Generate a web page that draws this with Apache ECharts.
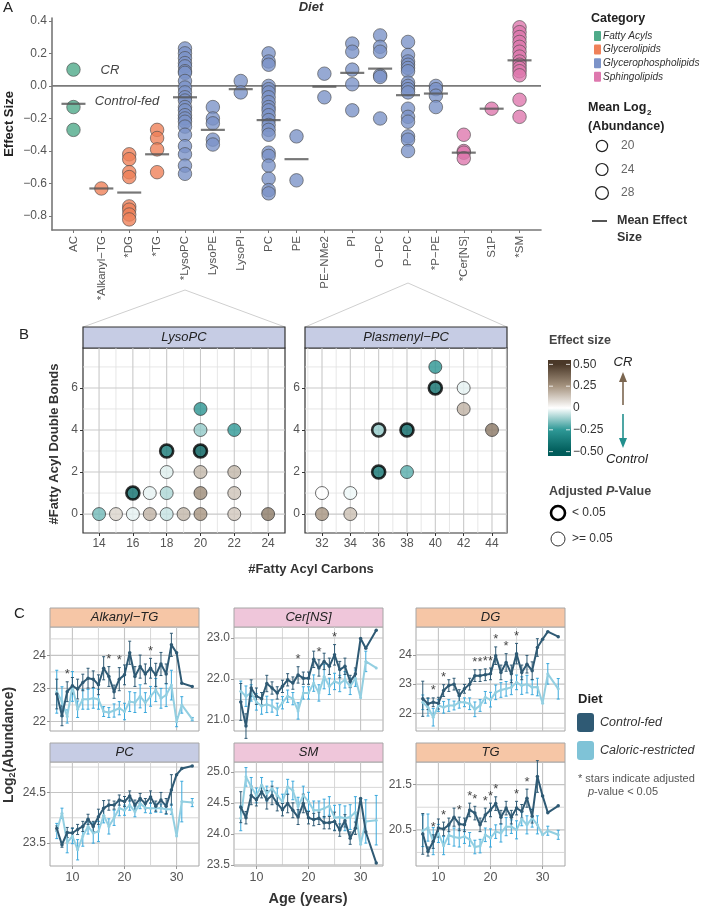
<!DOCTYPE html>
<html>
<head>
<meta charset="utf-8">
<script src="https://cdn.jsdelivr.net/npm/echarts@6/dist/echarts.min.js"></script>
<style>
html, body { margin: 0; padding: 0; background: #fff; }
#chart { width: 701px; height: 908px; }
</style>
</head>
<body>
<div id="chart"></div>
<script>
var FAM = '"Liberation Sans", Arial, sans-serif';
function F(size, style) { return (style ? style + ' ' : '') + size + 'px ' + FAM; }

// ---------- panel A : effect size per lipid class
var catNames = ['AC', '*Alkanyl\u2212TG', '*DG', '*TG', '*LysoPC', 'LysoPE', 'LysoPI', 'PC', 'PE', 'PE\u2212NMe2', 'PI', 'O\u2212PC', 'P\u2212PC', '*P\u2212PE', '*Cer[NS]', 'S1P', '*SM'];
var catGroup = [0, 1, 1, 1, 2, 2, 2, 2, 2, 2, 2, 2, 2, 2, 3, 3, 3];
var groupNames = ['Fatty Acyls', 'Glycerolipids', 'Glycerophospholipids', 'Sphingolipids'];
var groupColors = ['#4faa89', '#ef8159', '#7c93c8', '#de78ae'];
var catEffects = [
  [0.10, -0.13, -0.27],
  [-0.63],
  [-0.42, -0.45, -0.53, -0.56, -0.74, -0.76, -0.79, -0.82],
  [-0.27, -0.32, -0.39, -0.53],
  [0.23, 0.20, 0.17, 0.14, 0.12, 0.09, 0.08, 0.03, -0.01, -0.04, -0.07, -0.09, -0.13, -0.15, -0.18, -0.20, -0.22, -0.25, -0.30, -0.37, -0.42, -0.49, -0.54],
  [-0.13, -0.20, -0.23, -0.33, -0.36],
  [0.03, -0.04],
  [0.20, 0.15, 0.13, 0.0, -0.02, -0.04, -0.07, -0.10, -0.13, -0.15, -0.18, -0.21, -0.24, -0.27, -0.30, -0.41, -0.43, -0.49, -0.57, -0.64, -0.66],
  [-0.31, -0.58],
  [0.075, -0.07],
  [0.26, 0.21, 0.10, 0.01, -0.15],
  [0.31, 0.24, 0.21, 0.065, 0.055, -0.20],
  [0.27, 0.19, 0.15, 0.13, 0.11, 0.09, 0.02, 0.0, -0.02, -0.04, -0.14, -0.19, -0.22, -0.31, -0.33, -0.40],
  [0.0, -0.02, -0.06, -0.13],
  [-0.30, -0.40, -0.41, -0.445],
  [-0.14],
  [0.36, 0.33, 0.30, 0.27, 0.24, 0.21, 0.18, 0.15, 0.13, 0.11, 0.09, 0.065, -0.085, -0.19]
];
var catMeans = [-0.11, -0.63, -0.655, -0.42, -0.07, -0.27, -0.02, -0.21, -0.45, -0.005, 0.08, 0.106, -0.057, -0.047, -0.41, -0.14, 0.157];
var effectTicks = [-0.8, -0.6, -0.4, -0.2, 0, 0.2, 0.4];
var abundanceKeys = [20, 24, 28];

// ---------- panel B : species by carbons / double bonds
var lysoC = [14, 15, 16, 17, 18, 19, 20, 22, 24, 16, 17, 18, 20, 22, 18, 20, 22, 18, 20, 20, 22, 20];
var lysoDB = [0, 0, 0, 0, 0, 0, 0, 0, 0, 1, 1, 1, 1, 1, 2, 2, 2, 3, 3, 4, 4, 5];
var lysoES = [-0.17, 0.10, -0.03, 0.18, -0.07, 0.17, 0.25, 0.13, 0.32, -0.43, -0.03, -0.10, 0.28, 0.14, -0.04, 0.17, 0.17, -0.38, -0.5, -0.13, -0.25, -0.27];
var lysoSig = [0, 0, 0, 0, 0, 0, 0, 0, 0, 1, 0, 0, 0, 0, 0, 0, 0, 1, 1, 0, 0, 0];
var plasC = [32, 34, 32, 34, 36, 38, 36, 38, 44, 42, 40, 42, 40];
var plasDB = [0, 0, 1, 1, 2, 2, 4, 4, 4, 5, 6, 6, 7];
var plasES = [0.25, 0.15, 0.0, -0.02, -0.4, -0.2, -0.13, -0.45, 0.33, 0.18, -0.42, -0.03, -0.27];
var plasSig = [0, 0, 0, 0, 1, 0, 1, 1, 0, 0, 1, 0, 0];
var esTicks = [0.5, 0.25, 0, -0.25, -0.5];
var esColors = ['#005c5a', '#2e9896', '#ffffff', '#a69480', '#4a3828'];

// ---------- panel C : abundance by age
var ages = [7, 8, 9, 10, 11, 12, 13, 14, 15, 16, 17, 18, 19, 20, 21, 22, 23, 24, 25, 26, 27, 28, 29, 30, 31, 33];

var alkCtl = [22.83, 22.17, 22.9, 23.08, 22.98, 23.18, 23.31, 23.28, 23.11, 23.61, 23.36, 22.9, 23.28, 23.41, 24.08, 23.36, 23.66, 23.44, 23.61, 23.41, 23.74, 23.44, 24.32, 24.08, 23.16, 23.06];
var alkCtlErr = [0.45, 0.3, 0.3, 0.25, 0.3, 0.25, 0.3, 0.25, 0.3, 0.35, 0.3, 0.2, 0.35, 0.3, 0.35, 0.3, 0.35, 0.3, 0.3, 0.35, 0.35, 0.3, 0.35, 0, 0, 0];
var alkCr = [22.9, 22.6, 22.15, 23.06, 22.37, 22.67, 22.67, 22.7, 22.67, 22.3, 22.27, 22.33, 22.4, 22.3, 22.6, 22.57, 22.76, 22.57, 22.76, 22.95, 22.7, 22.8, 23.1, 21.99, 22.5, 22.07];
var alkCrErr = [0.65, 0.45, 0.2, 0.45, 0.25, 0.3, 0.3, 0.3, 0.3, 0.15, 0.15, 0.2, 0.2, 0.25, 0.3, 0.3, 0.35, 0.3, 0.3, 0.35, 0.3, 0.35, 0.45, 0.15, 0.25, 0.05];
var alkStars = [9, 17, 19, 25];

var cerCtl = [21.44, 20.85, 21.78, 21.58, 21.52, 21.89, 21.78, 21.66, 21.82, 21.98, 21.9, 22.1, 22.02, 22.02, 22.48, 22.27, 22.43, 22.31, 22.59, 22.23, 22.31, 21.94, 22.12, 22.99, 22.75, 23.19];
var cerCtlErr = [0.45, 0.3, 0.2, 0.2, 0.15, 0.2, 0.15, 0.15, 0.15, 0.15, 0.15, 0.2, 0.15, 0.15, 0.2, 0.2, 0.2, 0.2, 0.25, 0.2, 0.2, 0.15, 0.15, 0, 0, 0];
var cerCr = [21.7, 21.58, 21.66, 21.44, 21.34, 21.38, 21.34, 21.26, 21.42, 21.58, 21.52, 21.22, 21.66, 21.66, 21.9, 21.66, 22.06, 21.82, 21.94, 21.89, 21.98, 21.82, 22.02, 21.54, 22.43, 22.27];
var cerCrErr = [0.25, 0.25, 0.2, 0.2, 0.2, 0.2, 0.15, 0.15, 0.15, 0.15, 0.15, 0.2, 0.15, 0.15, 0.2, 0.2, 0.3, 0.2, 0.2, 0.2, 0.2, 0.2, 0.2, 0, 0.25, 0];
var cerStars = [18, 22, 25];

var dgCtl = [22.5, 22.33, 22.38, 22.35, 22.78, 22.95, 23.0, 22.61, 22.84, 23.0, 23.29, 23.29, 23.32, 23.35, 23.97, 23.4, 23.74, 23.35, 24.04, 23.4, 23.68, 23.46, 24.25, 24.53, 24.79, 24.62];
var dgCtlErr = [0.6, 0.2, 0.15, 0.2, 0.2, 0.2, 0.2, 0.2, 0.15, 0.2, 0.2, 0.2, 0.2, 0.2, 0.3, 0.25, 0.3, 0.3, 0.35, 0.25, 0.3, 0.3, 0.3, 0, 0, 0];
var dgCr = [22.38, 22.21, 21.87, 22.27, 22.21, 22.27, 22.27, 22.38, 22.38, 22.33, 22.14, 22.27, 22.55, 22.47, 22.72, 22.8, 22.84, 22.89, 23.06, 22.95, 23.0, 22.89, 22.9, 22.35, 23.35, 22.84];
var dgCrErr = [0.25, 0.3, 0.3, 0.2, 0.2, 0.2, 0.15, 0.2, 0.15, 0.2, 0.25, 0.2, 0.2, 0.25, 0.25, 0.25, 0.25, 0.25, 0.25, 0.3, 0.3, 0.25, 0.3, 0, 0.35, 0.35];
var dgStars = [9, 11, 17, 18, 19, 20, 21, 23, 25];

var pcCtl = [23.79, 23.47, 23.71, 23.7, 23.77, 23.83, 23.97, 23.83, 24.02, 24.19, 24.25, 24.25, 24.35, 24.32, 24.43, 24.25, 24.38, 24.28, 24.41, 24.23, 24.35, 24.23, 24.55, 24.85, 24.97, 25.02];
var pcCtlErr = [0.05, 0.05, 0.1, 0.1, 0.1, 0.1, 0.1, 0.1, 0.15, 0.15, 0.1, 0.08, 0.1, 0.1, 0.1, 0.1, 0.1, 0.1, 0.12, 0.1, 0.15, 0.15, 0.3, 0, 0, 0];
var pcCr = [23.74, 24.09, 23.51, 23.64, 23.37, 23.64, 23.83, 23.7, 23.73, 24.05, 23.83, 24.0, 24.19, 24.15, 24.25, 24.12, 24.28, 24.2, 24.19, 24.19, 24.19, 24.17, 24.17, 23.64, 24.32, 24.3];
var pcCrErr = [0.15, 0.1, 0.2, 0.15, 0.2, 0.2, 0.15, 0.2, 0.2, 0.15, 0.15, 0.15, 0.15, 0.1, 0.1, 0.1, 0.1, 0.1, 0.1, 0.08, 0.08, 0.1, 0.1, 0, 0.4, 0.08];
var pcStars = [];

var smCtl = [24.43, 24.26, 24.62, 24.55, 24.68, 24.55, 24.62, 24.49, 24.39, 24.49, 24.38, 24.27, 24.49, 24.26, 24.23, 24.25, 24.18, 24.18, 24.2, 24.06, 24.21, 23.93, 24.09, 24.57, 24.03, 23.53];
var smCtlErr = [0.25, 0.1, 0.15, 0.1, 0.1, 0.15, 0.15, 0.12, 0.1, 0.15, 0.12, 0.12, 0.15, 0.1, 0.1, 0.1, 0.1, 0.1, 0.15, 0.1, 0.1, 0.1, 0.1, 0, 0, 0];
var smCr = [24.25, 24.92, 24.76, 24.62, 24.79, 24.65, 24.73, 24.62, 24.52, 24.76, 24.7, 24.44, 24.62, 24.52, 24.38, 24.38, 24.41, 24.45, 24.26, 24.27, 24.25, 24.27, 24.35, 23.83, 24.2, 24.22];
var smCrErr = [0.2, 0.15, 0.15, 0.12, 0.12, 0.12, 0.12, 0.12, 0.12, 0.12, 0.15, 0.15, 0.15, 0.15, 0.15, 0.15, 0.15, 0.15, 0.2, 0.2, 0.2, 0.2, 0.25, 0, 0.35, 0.4];
var smStars = [];

var tgCtl = [20.41, 20.02, 20.24, 20.54, 20.52, 20.61, 20.78, 20.63, 20.61, 20.94, 20.87, 20.61, 20.83, 20.94, 21.08, 20.78, 20.98, 20.78, 20.98, 20.91, 21.2, 20.8, 21.68, 21.25, 20.88, 21.03];
var tgCtlErr = [0.45, 0.1, 0.15, 0.2, 0.15, 0.15, 0.2, 0.15, 0.15, 0.15, 0.15, 0.15, 0.15, 0.15, 0.15, 0.15, 0.15, 0.15, 0.15, 0.15, 0.2, 0.15, 0.35, 0, 0, 0];
var tgCr = [20.48, 20.55, 20.25, 20.42, 20.15, 20.38, 20.34, 20.32, 20.35, 20.29, 20.12, 20.14, 20.39, 20.32, 20.46, 20.43, 20.57, 20.57, 20.5, 20.74, 20.61, 20.76, 20.61, 20.39, 20.48, 20.39];
var tgCrErr = [0.35, 0.3, 0.3, 0.2, 0.2, 0.2, 0.2, 0.2, 0.15, 0.15, 0.15, 0.15, 0.15, 0.2, 0.15, 0.2, 0.2, 0.15, 0.2, 0.15, 0.2, 0.2, 0.2, 0, 0.1, 0.1];
var tgStars = [9, 11, 14, 16, 17, 19, 20, 21, 25, 27];

var ageTicks = [10, 20, 30];
var ageMinor = [15, 25];

var CTL = '#2f5a74', CR = '#93cfe1', CR_ERR = '#3aa8dc';
var stripColors = ['#c6cce4', '#f6c6a6', '#c6cce4', '#efc6da'];

var cPanels = [
  {name: 'Alkanyl\u2212TG', group: 1, ctl: alkCtl, ctlErr: alkCtlErr, cr: alkCr, crErr: alkCrErr, stars: alkStars, yMin: 21.71, yMax: 24.86, yTicks: [22, 23, 24], yMinor: [22.5, 23.5, 24.5], dec: 0},
  {name: 'Cer[NS]', group: 3, ctl: cerCtl, ctlErr: cerCtlErr, cr: cerCr, crErr: cerCrErr, stars: cerStars, yMin: 20.73, yMax: 23.27, yTicks: [21, 22, 23], yMinor: [21.5, 22.5], dec: 1},
  {name: 'DG', group: 1, ctl: dgCtl, ctlErr: dgCtlErr, cr: dgCr, crErr: dgCrErr, stars: dgStars, yMin: 21.4, yMax: 24.95, yTicks: [22, 23, 24], yMinor: [21.5, 22.5, 23.5, 24.5], dec: 0},
  {name: 'PC', group: 2, ctl: pcCtl, ctlErr: pcCtlErr, cr: pcCr, crErr: pcCrErr, stars: pcStars, yMin: 23.05, yMax: 25.1, yTicks: [23.5, 24.5], yMinor: [24, 25], dec: 1},
  {name: 'SM', group: 3, ctl: smCtl, ctlErr: smCtlErr, cr: smCr, crErr: smCrErr, stars: smStars, yMin: 23.48, yMax: 25.16, yTicks: [23.5, 24, 24.5, 25], yMinor: [23.75, 24.25, 24.75], dec: 1},
  {name: 'TG', group: 1, ctl: tgCtl, ctlErr: tgCtlErr, cr: tgCr, crErr: tgCrErr, stars: tgStars, yMin: 19.7, yMax: 22.0, yTicks: [20.5, 21.5], yMinor: [20, 21], dec: 1}
];

// ---------- helpers
function fmt(d) {
  return function (v) { return v.toFixed(d).replace('-', '\u2212'); };
}
function range(a, b, step) {
  var out = [];
  for (var v = a; v <= b + 1e-9; v += step) out.push(+v.toFixed(4));
  return out;
}

var MAJ = {stroke: '#c9c9c9', lineWidth: 1.1};
var MIN = {stroke: '#e1e1e1', lineWidth: 0.8};

function gridLines(gi, g) {
  return {
    type: 'custom', xAxisIndex: gi, yAxisIndex: gi, silent: true, z: 1,
    encode: {x: 0, y: 1},
    data: [g.ref],
    renderItem: function (params, api) {
      var cs = params.coordSys, kids = [];
      function add(vals, isX, st) {
        (vals || []).forEach(function (v) {
          if (isX) {
            var px = api.coord([v, g.ref[1]])[0];
            kids.push({type: 'line', shape: {x1: px, y1: cs.y, x2: px, y2: cs.y + cs.height}, style: st});
          } else {
            var py = api.coord([g.ref[0], v])[1];
            kids.push({type: 'line', shape: {x1: cs.x, y1: py, x2: cs.x + cs.width, y2: py}, style: st});
          }
        });
      }
      add(g.xMin, true, g.minSt || MIN);
      add(g.yMin, false, g.minSt || MIN);
      add(g.xMaj, true, g.majSt || MAJ);
      add(g.yMaj, false, g.majSt || MAJ);
      return {type: 'group', children: kids};
    }
  };
}

function errBars(gi, xs, ys, es, color) {
  return {
    type: 'custom', xAxisIndex: gi, yAxisIndex: gi, silent: true, z: 3,
    encode: {x: 0, y: 1},
    data: xs.map(function (x, i) { return [x, ys[i], es[i]]; }),
    renderItem: function (params, api) {
      var e = api.value(2);
      if (!e) return null;
      var x = api.value(0), y = api.value(1);
      var t = api.coord([x, y + e]), b = api.coord([x, y - e]);
      var st = {stroke: color, lineWidth: 1};
      return {type: 'group', children: [
        {type: 'line', shape: {x1: t[0], y1: t[1], x2: b[0], y2: b[1]}, style: st},
        {type: 'line', shape: {x1: t[0] - 1.5, y1: t[1], x2: t[0] + 1.5, y2: t[1]}, style: st},
        {type: 'line', shape: {x1: b[0] - 1.5, y1: b[1], x2: b[0] + 1.5, y2: b[1]}, style: st}
      ]};
    }
  };
}

var grids = [], xAxes = [], yAxes = [], series = [], G = [];

function hiddenLine() { return {show: false, onZero: false}; }

// ---------- panel A
grids.push({left: 52, top: 18, width: 489, height: 212});
var catIdx = catNames.map(function (n, i) { return i; });
xAxes.push({
  gridIndex: 0, type: 'value', min: -0.77, max: 16.77,
  axisLine: {show: true, onZero: false, lineStyle: {color: '#777', width: 1.6}},
  axisTick: {show: true, customValues: catIdx, length: 3, lineStyle: {color: '#777'}},
  axisLabel: {customValues: catIdx, rotate: 90, margin: 6, fontSize: 11.5, color: '#555',
    formatter: function (v) { return catNames[Math.round(v)]; }},
  splitLine: {show: false}
});
yAxes.push({
  gridIndex: 0, type: 'value', min: -0.885, max: 0.417,
  axisLine: {show: true, onZero: false, lineStyle: {color: '#777', width: 1.6}},
  axisTick: {show: true, customValues: effectTicks, length: 3, lineStyle: {color: '#777'}},
  axisLabel: {customValues: effectTicks, formatter: fmt(1), fontSize: 12, color: '#555', margin: 5},
  splitLine: {show: false}
});
series.push(gridLines(0, {yMaj: [0], ref: [8, 0], majSt: {stroke: '#7a7a7a', lineWidth: 1.6}}));
var aPts = [];
catEffects.forEach(function (arr, i) {
  arr.forEach(function (v) {
    aPts.push({value: [i, v], itemStyle: {color: groupColors[catGroup[i]]}});
  });
});
series.push({
  type: 'scatter', xAxisIndex: 0, yAxisIndex: 0, data: aPts, symbolSize: 13.5, z: 3,
  itemStyle: {opacity: 0.8, borderColor: '#4a4a4a', borderWidth: 0.8}
});
series.push({
  type: 'scatter', xAxisIndex: 0, yAxisIndex: 0, z: 5, symbol: 'rect', symbolSize: [24, 2.2],
  data: catMeans.map(function (m, i) { return [i, m]; }),
  itemStyle: {color: '#555'}
});

// ---------- panel B
function bPanel(gi, left, cs, dbs, es, sig, xMin, xMax, xTicks, xMinor) {
  grids.push({left: left, top: 348, width: 202, height: 185, show: true, borderColor: '#333', borderWidth: 1.2, backgroundColor: '#fff'});
  xAxes.push({
    gridIndex: gi, type: 'value', min: xMin, max: xMax,
    axisLine: hiddenLine(),
    axisTick: {show: true, customValues: xTicks, length: 3, lineStyle: {color: '#333'}},
    axisLabel: {customValues: xTicks, fontSize: 12, color: '#555', margin: 5},
    splitLine: {show: false}
  });
  yAxes.push({
    gridIndex: gi, type: 'value', min: -0.9, max: 7.9,
    axisLine: hiddenLine(),
    axisTick: {show: true, customValues: [0, 2, 4, 6], length: 3, lineStyle: {color: '#333'}},
    axisLabel: {customValues: [0, 2, 4, 6], fontSize: 12, color: '#555', margin: 5},
    splitLine: {show: false}
  });
  series.push(gridLines(gi, {xMaj: xTicks, xMin: xMinor, yMaj: [0, 2, 4, 6], yMin: [1, 3, 5, 7], ref: [xTicks[0], 0]}));
  series.push({
    type: 'scatter', xAxisIndex: gi, yAxisIndex: gi, symbolSize: 13, z: 3,
    data: cs.map(function (c, i) {
      return {value: [c, dbs[i], es[i]], itemStyle: {borderColor: sig[i] ? '#000' : '#333', borderWidth: sig[i] ? 2.6 : 0.9}};
    })
  });
  return series.length - 1;
}
var idxLyso = bPanel(1, 83, lysoC, lysoDB, lysoES, lysoSig, 13.05, 25.0, range(14, 24, 2), range(15, 23, 2));
var idxPlas = bPanel(2, 305, plasC, plasDB, plasES, plasSig, 30.8, 45.06, range(32, 44, 2), range(31, 45, 2));

// ---------- panel C
var cCols = [50, 234, 416], cRows = [627, 762];
cPanels.forEach(function (p, k) {
  var gi = 3 + k, col = k % 3, row = Math.floor(k / 3);
  var left = cCols[col], top = cRows[row];
  grids.push({left: left, top: top, width: 149, height: 104, show: true, borderColor: '#a6a6a6', borderWidth: 1, backgroundColor: '#fff'});
  xAxes.push({
    gridIndex: gi, type: 'value', min: 5.7, max: 34.3,
    axisLine: hiddenLine(),
    axisTick: {show: row === 1, customValues: ageTicks, length: 3, lineStyle: {color: '#999'}},
    axisLabel: {show: row === 1, customValues: ageTicks, fontSize: 12.5, color: '#555', margin: 5},
    splitLine: {show: false}
  });
  yAxes.push({
    gridIndex: gi, type: 'value', min: p.yMin, max: p.yMax,
    axisLine: hiddenLine(),
    axisTick: {show: true, customValues: p.yTicks, length: 3, lineStyle: {color: '#999'}},
    axisLabel: {customValues: p.yTicks, formatter: fmt(p.dec), fontSize: 12, color: '#555', margin: 4},
    splitLine: {show: false}
  });
  series.push(gridLines(gi, {xMaj: ageTicks, xMin: ageMinor, yMaj: p.yTicks, yMin: p.yMinor, ref: [20, p.yTicks[0]],
    minSt: {stroke: '#d2d2d2', lineWidth: 0.9}, majSt: {stroke: '#c4c4c4', lineWidth: 1.1}}));
  series.push(errBars(gi, ages, p.cr, p.crErr, CR_ERR));
  series.push({
    type: 'line', xAxisIndex: gi, yAxisIndex: gi, z: 4, silent: true,
    data: ages.map(function (a, i) { return [a, p.cr[i]]; }),
    symbol: 'circle', symbolSize: 3, lineStyle: {color: CR, width: 2}, itemStyle: {color: CR}
  });
  series.push(errBars(gi, ages, p.ctl, p.ctlErr, CTL));
  series.push({
    type: 'line', xAxisIndex: gi, yAxisIndex: gi, z: 5, silent: true,
    data: ages.map(function (a, i) { return [a, p.ctl[i]]; }),
    symbol: 'circle', symbolSize: 3.5, lineStyle: {color: CTL, width: 2}, itemStyle: {color: CTL}
  });
  series.push({
    type: 'scatter', xAxisIndex: gi, yAxisIndex: gi, z: 6, silent: true, symbolSize: 1,
    itemStyle: {color: 'rgba(0,0,0,0)'},
    label: {show: true, formatter: '*', position: 'top', distance: 0, fontSize: 13, color: '#111'},
    data: p.stars.map(function (a) {
      var i = ages.indexOf(a);
      return [a, p.ctl[i] + p.ctlErr[i]];
    })
  });
  // strip
  G.push({type: 'rect', shape: {x: left, y: top - 19, width: 149, height: 19}, style: {fill: stripColors[p.group], stroke: '#a6a6a6', lineWidth: 1}});
  G.push({type: 'text', x: left + 74.5, y: top - 9.5, style: {text: p.name, font: F(13, 'italic'), fill: '#222', textAlign: 'center', textVerticalAlign: 'middle'}});
});

// ---------- texts, legends, decorations
function T(x, y, s, font, o) {
  o = o || {};
  var st = {text: s, font: font, fill: o.fill || '#333', textAlign: o.align || 'left', textVerticalAlign: o.va || 'middle'};
  if (o.rich) st.rich = o.rich;
  G.push({type: 'text', x: x, y: y, rotation: o.rot || 0, z: 10, style: st});
}

// panel A
T(3, 8, 'A', F(15), {fill: '#222'});
T(311, 7, 'Diet', F(13, 'italic bold'), {align: 'center'});
T(9, 124, 'Effect Size', F(13, 'bold'), {align: 'center', rot: Math.PI / 2, fill: '#222'});
T(110, 70, 'CR', F(13, 'italic'), {align: 'center', fill: '#444'});
T(127, 101, 'Control-fed', F(13, 'italic'), {align: 'center', fill: '#444'});
G.push({type: 'polyline', shape: {points: [[83, 327], [185, 290], [285, 327]]}, style: {stroke: '#cfcfcf', lineWidth: 1, fill: null}});
G.push({type: 'polyline', shape: {points: [[305, 327], [408, 283], [507, 327]]}, style: {stroke: '#cfcfcf', lineWidth: 1, fill: null}});

T(591, 19, 'Category', F(12.5, 'bold'), {fill: '#222'});
groupNames.forEach(function (n, i) {
  var y = 36 + i * 13.6;
  G.push({type: 'rect', shape: {x: 594, y: y - 5, width: 7, height: 10, r: 1}, style: {fill: groupColors[i]}});
  T(603, y, n, F(10.1, 'italic'), {fill: '#333'});
});
T(588, 108, 'Mean Log', F(12.5, 'bold'), {fill: '#222'});
T(647, 113, '2', F(8, 'bold'), {fill: '#222'});
T(588, 127, '(Abundance)', F(12.5, 'bold'), {fill: '#222'});
abundanceKeys.forEach(function (k, i) {
  var y = 146 + i * 23.5;
  G.push({type: 'circle', shape: {cx: 602, cy: y, r: 5.6 + i * 0.4}, style: {fill: 'none', stroke: '#222', lineWidth: 1.2}});
  T(621, y, String(k), F(12), {fill: '#666'});
});
G.push({type: 'line', shape: {x1: 592, y1: 221, x2: 607, y2: 221}, style: {stroke: '#555', lineWidth: 2}});
T(617, 221, 'Mean Effect', F(12.5, 'bold'), {fill: '#333'});
T(617, 238, 'Size', F(12.5, 'bold'), {fill: '#333'});

// panel B
T(19, 335, 'B', F(15), {fill: '#222'});
G.push({type: 'rect', shape: {x: 83, y: 327, width: 202, height: 21}, style: {fill: '#c6cce4', stroke: '#333', lineWidth: 1.2}});
T(184, 337.5, 'LysoPC', F(13, 'italic'), {align: 'center', fill: '#222'});
G.push({type: 'rect', shape: {x: 305, y: 327, width: 202, height: 21}, style: {fill: '#c6cce4', stroke: '#333', lineWidth: 1.2}});
T(406, 337.5, 'Plasmenyl\u2212PC', F(13, 'italic'), {align: 'center', fill: '#222'});
T(54, 444, '#Fatty Acyl Double Bonds', F(13, 'bold'), {align: 'center', rot: Math.PI / 2, fill: '#333'});
T(311, 569, '#Fatty Acyl Carbons', F(13, 'bold'), {align: 'center', fill: '#333'});

T(549, 341, 'Effect size', F(12.5, 'bold'), {fill: '#444'});
var barTop = 360, barH = 96, barSpan = 0.55;
function barY(v) { return barTop + (barSpan - v) / (2 * barSpan) * barH; }
var stops = [{offset: 0, color: esColors[4]}];
[0.5, 0.25, 0, -0.25, -0.5].forEach(function (v, i) {
  stops.push({offset: (barY(v) - barTop) / barH, color: esColors[4 - i]});
});
stops.push({offset: 1, color: esColors[0]});
G.push({type: 'rect', shape: {x: 548, y: barTop, width: 23, height: barH},
  style: {fill: new echarts.graphic.LinearGradient(0, 0, 0, 1, stops)}});
esTicks.forEach(function (v) {
  var y = barY(v);
  G.push({type: 'line', shape: {x1: 549, y1: y, x2: 553, y2: y}, style: {stroke: 'rgba(255,255,255,0.8)', lineWidth: 1}});
  G.push({type: 'line', shape: {x1: 566, y1: y, x2: 570, y2: y}, style: {stroke: 'rgba(255,255,255,0.8)', lineWidth: 1}});
  T(573, y, v === 0 ? '0' : v.toFixed(2).replace('-', '\u2212'), F(12), {fill: '#333'});
});
T(623, 362, 'CR', F(13, 'italic'), {align: 'center', fill: '#222'});
G.push({type: 'line', shape: {x1: 623, y1: 405, x2: 623, y2: 378}, style: {stroke: '#7b6650', lineWidth: 1.6}});
G.push({type: 'polygon', shape: {points: [[623, 372], [619, 382], [627, 382]]}, style: {fill: '#7b6650'}});
G.push({type: 'line', shape: {x1: 623, y1: 414, x2: 623, y2: 441}, style: {stroke: '#22908e', lineWidth: 1.6}});
G.push({type: 'polygon', shape: {points: [[623, 448], [619, 438], [627, 438]]}, style: {fill: '#22908e'}});
T(627, 459, 'Control', F(13, 'italic'), {align: 'center', fill: '#222'});

T(549, 492, '{a|Adjusted }{b|P}{a|-Value}', F(12.5, 'bold'), {fill: '#444',
  rich: {a: {font: F(12.5, 'bold'), fill: '#444'}, b: {font: F(12.5, 'italic bold'), fill: '#444'}}});
G.push({type: 'circle', shape: {cx: 558, cy: 513, r: 7}, style: {fill: 'none', stroke: '#000', lineWidth: 2.6}});
T(572, 513, '< 0.05', F(12), {fill: '#333'});
G.push({type: 'circle', shape: {cx: 558, cy: 539, r: 7}, style: {fill: 'none', stroke: '#333', lineWidth: 1}});
T(572, 539, '>= 0.05', F(12), {fill: '#333'});

// panel C
T(14, 614, 'C', F(15), {fill: '#222'});
T(9, 745, '{a|Log}{s|2}{a|(Abundance)}', F(14, 'bold'), {align: 'center', rot: Math.PI / 2, fill: '#333',
  rich: {a: {font: F(14, 'bold'), fill: '#333', lineHeight: 16}, s: {font: F(9, 'bold'), fill: '#333', lineHeight: 16, verticalAlign: 'bottom'}}});
T(308, 899, 'Age (years)', F(14.5, 'bold'), {align: 'center', fill: '#333'});

T(578, 699, 'Diet', F(13, 'bold'), {fill: '#222'});
G.push({type: 'rect', shape: {x: 577, y: 713, width: 17, height: 19, r: 3}, style: {fill: CTL}});
T(600, 723, 'Control-fed', F(12.5, 'italic'), {fill: '#333'});
G.push({type: 'rect', shape: {x: 577, y: 741, width: 17, height: 19, r: 3}, style: {fill: '#7fc3d7'}});
T(600, 750.5, 'Caloric-restricted', F(12.5, 'italic'), {fill: '#333'});
T(578, 779, '* stars indicate adjusted', F(11), {fill: '#555'});
T(588, 792, '{i|p}{a|-value < 0.05}', F(11), {fill: '#555',
  rich: {a: {font: F(11), fill: '#555'}, i: {font: F(11, 'italic'), fill: '#555'}}});

var chart = echarts.init(document.getElementById('chart'), null, {renderer: 'canvas'});
chart.setOption({
  animation: false,
  textStyle: {fontFamily: FAM},
  grid: grids,
  xAxis: xAxes,
  yAxis: yAxes,
  visualMap: [{
    type: 'continuous', show: false, min: -0.5, max: 0.5, dimension: 2,
    seriesIndex: [idxLyso, idxPlas], inRange: {color: esColors}
  }],
  series: series,
  graphic: {elements: G}
});
</script>
</body>
</html>
